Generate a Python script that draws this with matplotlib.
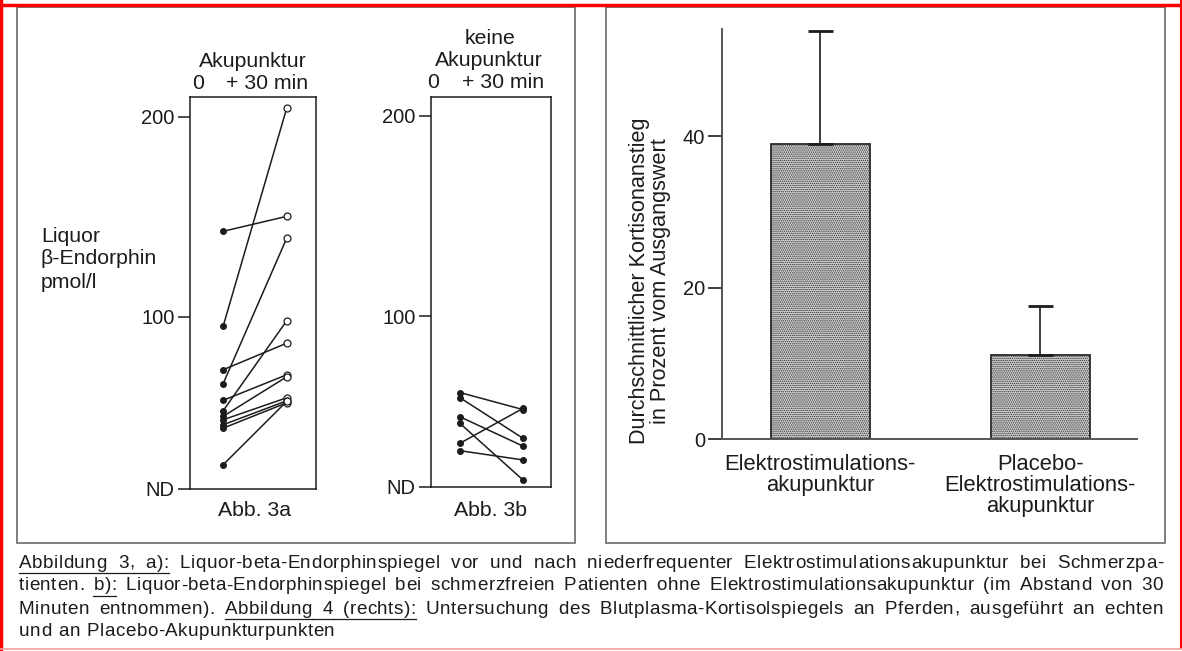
"""
Abb. 3a/3b (Liquor-beta-Endorphin vor/nach Akupunktur) und Abb. 4
(Kortisonanstieg, Elektrostimulation vs. Placebo) als eine Seite.
"""

import matplotlib
matplotlib.use("Agg")
import matplotlib.pyplot as plt
from matplotlib import font_manager, ft2font
from matplotlib.lines import Line2D
from matplotlib.patches import Rectangle

W_PX, H_PX = 1182, 651
INK = "#1c1c1c"
FRAME = "#6a6a6a"

# ---- data ----
AKU_BEFORE = [142.7, 95.2, 73.5, 66.5, 58.2, 53.0, 50.2, 48.5, 46.0, 44.3, 26.0]
AKU_AFTER = [150.2, 204.3, 86.8, 139.3, 71.0, 98.0, 70.0, 59.5, 58.0, 57.0, 57.7]

KEINE_BEFORE = [62.0, 59.4, 49.9, 46.6, 36.7, 33.0]
KEINE_AFTER = [53.5, 39.2, 35.3, 18.4, 54.1, 28.4]

BAR_LABELS = ["Elektrostimulations-\nakupunktur", "Placebo-\nElektrostimulations-\nakupunktur"]
BAR_MEANS = [38.9, 11.1]
BAR_ERR_UP = [15.0, 6.5]
BAR_TICKS = [0, 20, 40]

CAPTION_LINES = [
    [("Abbildung 3, a):", True),
     ("Liquor-beta-Endorphinspiegel vor und nach niederfrequenter Elektrostimulationsakupunktur bei Schmerzpa-", False)],
    [("tienten.", False), ("b):", True),
     ("Liquor-beta-Endorphinspiegel bei schmerzfreien Patienten ohne Elektrostimulationsakupunktur (im Abstand von 30", False)],
    [("Minuten entnommen).", False), ("Abbildung 4 (rechts):", True),
     ("Untersuchung des Blutplasma-Kortisolspiegels an Pferden, ausgeführt an echten", False)],
    [("und an Placebo-Akupunkturpunkten", False)],
]

plt.rcParams["font.family"] = ["Liberation Sans", "DejaVu Sans"]

fig = plt.figure(figsize=(W_PX / 100, H_PX / 100), dpi=100, facecolor="white")


def fx(x):
    return x / W_PX


def fy(y):
    return 1 - y / H_PX


def add_axes_px(left, top, right, bottom):
    return fig.add_axes([fx(left), fy(bottom), (right - left) / W_PX, (bottom - top) / H_PX])


def fig_text(x, y, s, **kw):
    kw.setdefault("fontsize", 15.3)
    kw.setdefault("color", INK)
    kw.setdefault("ha", "center")
    kw.setdefault("va", "center")
    return fig.text(fx(x), fy(y), s, **kw)


def draw_pair_panel(ax, before, after, open_after, y_nd, y_top, xlim):
    for b, a in zip(before, after):
        ax.plot([0, 1], [b, a], color=INK, lw=1.1, zorder=2)
    ax.plot([0] * len(before), before, "o", ms=4, color=INK, zorder=3)
    if open_after:
        ax.plot([1] * len(after), after, "o", ms=5, mfc="white", mec=INK, mew=0.9, zorder=3)
    else:
        ax.plot([1] * len(after), after, "o", ms=4, color=INK, zorder=3)
    ax.set_xlim(*xlim)
    ax.set_ylim(y_nd, y_top)
    ax.set_xticks([])
    ax.set_yticks([y_nd, 100, 200])
    ax.set_yticklabels(["ND", "100", "200"])
    ax.tick_params(axis="y", direction="out", length=9, width=1.1, labelsize=14.5,
                   pad=2, colors=INK)
    for spine in ax.spines.values():
        spine.set_linewidth(1.1)
        spine.set_color(INK)


# ---- outer frames and red border ----
for left, right in [(17, 575), (606, 1165)]:
    fig.add_artist(Rectangle((fx(left), fy(543)), (right - left) / W_PX, (543 - 7) / H_PX,
                             transform=fig.transFigure, fill=False, ec=FRAME, lw=1.2))
fig.add_artist(Line2D([0, 1], [fy(4.5), fy(4.5)], transform=fig.transFigure, color="red", lw=2.5))
fig.add_artist(Line2D([fx(1.5), fx(1.5)], [0, 1], transform=fig.transFigure, color="red", lw=2.5))
fig.add_artist(Line2D([fx(1180.5), fx(1180.5)], [fy(648), 1], transform=fig.transFigure, color="red", lw=1.5))
fig.add_artist(Line2D([0, 1], [fy(648.5), fy(648.5)], transform=fig.transFigure, color="#f4a0a0", lw=1.2))

# ---- Abb. 3a ----
ax_a = add_axes_px(190, 96.7, 316, 489)
draw_pair_panel(ax_a, AKU_BEFORE, AKU_AFTER, True, 13.9, 210.0, (-0.52, 1.46))
fig_text(253, 61.7, "Akupunktur")
fig_text(198, 83.3, "0")
fig_text(226, 83.3, "+ 30 min", ha="left")
fig_text(254, 510, "Abb. 3a")
fig_text(41, 237, "Liquor", ha="left")
fig_text(41, 259, "β-Endorphin", ha="left")
fig_text(41, 282, "pmol/l", ha="left")

# ---- Abb. 3b ----
ax_b = add_axes_px(431, 96.7, 550.7, 487)
draw_pair_panel(ax_b, KEINE_BEFORE, KEINE_AFTER, False, 14.9, 209.5, (-0.46, 1.44))
fig_text(490, 38.3, "keine")
fig_text(489, 60, "Akupunktur")
fig_text(433, 82.7, "0")
fig_text(462, 82.7, "+ 30 min", ha="left")
fig_text(491, 510, "Abb. 3b")

# ---- Abb. 4 ----
plt.rcParams["hatch.linewidth"] = 0.7
ax_c = add_axes_px(721.7, 29.3, 1136.7, 439.3)
x_pos = list(range(len(BAR_MEANS)))
ax_c.bar(x_pos, BAR_MEANS, width=0.45, color="#d6d6d6", edgecolor="#2a2a2a",
         linewidth=1.3, hatch="........", zorder=2)
ax_c.errorbar(x_pos, BAR_MEANS, yerr=[[0] * len(BAR_MEANS), BAR_ERR_UP], fmt="none",
              ecolor=INK, elinewidth=1.2, capsize=9, capthick=2.0, zorder=3)
ax_c.set_xlim(-0.448, 1.439)
ax_c.set_ylim(0, 54.1)
ax_c.set_yticks(BAR_TICKS)
ax_c.set_xticks([])
ax_c.tick_params(axis="y", direction="out", length=10, width=1.2, labelsize=14.5,
                 pad=2, colors=INK)
for side in ["top", "right"]:
    ax_c.spines[side].set_visible(False)
for side in ["left", "bottom"]:
    ax_c.spines[side].set_color("#555555")
    ax_c.spines[side].set_linewidth(1.4)
ax_c.spines["bottom"].set_zorder(4)

for xi, label in zip(x_pos, BAR_LABELS):
    ax_c.annotate(label, xy=(xi, 0), xycoords="data", xytext=(0, -10.5),
                  textcoords="offset points", ha="center", va="top",
                  fontsize=15.8, color=INK, linespacing=1.0)
fig_text(650, 281, "Durchschnittlicher Kortisonanstieg\nin Prozent vom Ausgangswert",
         rotation=90, linespacing=1.0, fontsize=15.6)

# ---- caption: letter-spaced and justified like the print ----
CAP_LEFT, CAP_RIGHT = 19, 1163
CAP_Y = [563, 586, 609, 631]
CAP_SIZE = 13.6
CAP_TRACKING = 0.45          # extra px between letters
CAP_WORD_GAP = 7.0           # px, only for the last (ragged) line

cap_font = ft2font.FT2Font(font_manager.findfont(font_manager.FontProperties(family="Liberation Sans")))
cap_font.set_size(CAP_SIZE, 100)


def char_advance(ch):
    return cap_font.load_char(ord(ch)).linearHoriAdvance / 65536


def word_width(word):
    return sum(char_advance(c) for c in word) + CAP_TRACKING * (len(word) - 1)


for line_no, (segments, y) in enumerate(zip(CAPTION_LINES, CAP_Y)):
    words = [(w, underline) for text, underline in segments for w in text.split()]
    widths = [word_width(w) for w, _ in words]
    is_last = line_no == len(CAPTION_LINES) - 1
    gap = CAP_WORD_GAP if is_last else (CAP_RIGHT - CAP_LEFT - sum(widths)) / (len(words) - 1)
    x = CAP_LEFT
    prev_under_end = None
    for (word, underline), width in zip(words, widths):
        cx = x
        for ch in word:
            fig.text(fx(cx), fy(y), ch, fontsize=CAP_SIZE, color=INK, ha="left", va="center")
            cx += char_advance(ch) + CAP_TRACKING
        if underline:
            start = prev_under_end if prev_under_end is not None else x
            fig.add_artist(Line2D([fx(start), fx(x + width)], [fy(y + 9.5), fy(y + 9.5)],
                                  transform=fig.transFigure, color=INK, lw=0.9))
            prev_under_end = x + width
        else:
            prev_under_end = None
        x += width + gap

fig.savefig("out.png", dpi=100, facecolor="white")
